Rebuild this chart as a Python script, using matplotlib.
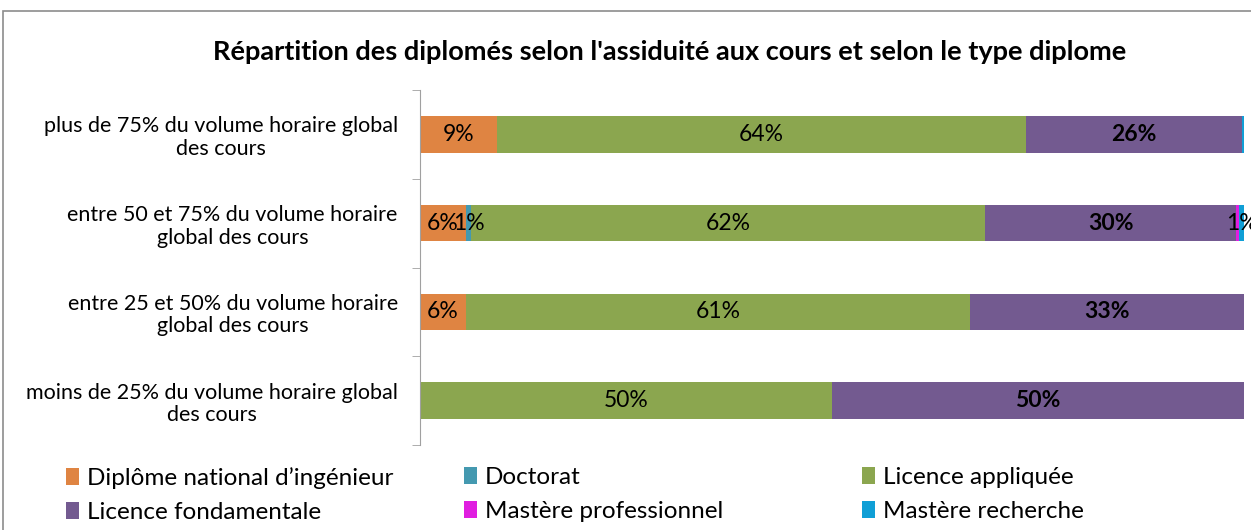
import matplotlib.pyplot as plt
import numpy as np
from matplotlib.patches import Rectangle

plt.rcParams['font.family'] = ['Lato', 'DejaVu Sans']

# Data (top to bottom)
categories = ['plus de 75% du volume horaire global\ndes cours',
              'entre 50 et 75% du volume horaire\nglobal des cours',
              'entre 25 et 50% du volume horaire\nglobal des cours',
              'moins de 25% du volume horaire global\ndes cours']
series_names = ['Diplôme national d\u2019ingénieur', 'Doctorat', 'Licence appliquée',
                'Licence fondamentale', 'Mastère professionnel', 'Mastère recherche']
ingenieur = [9.3, 5.6, 5.6, 0]
doctorat = [0, 0.6, 0, 0]
lic_appliquee = [64.2, 62.4, 61.2, 50]
lic_fondamentale = [26.2, 30.4, 33.2, 50]
mastere_pro = [0, 0.4, 0, 0]
mastere_rech = [0.3, 0.6, 0, 0]
series = [ingenieur, doctorat, lic_appliquee, lic_fondamentale, mastere_pro, mastere_rech]
colors = ['#DF8442', '#4499B0', '#8BA64F', '#735A90', '#E01EE0', '#109FD6']
bold = [False, False, False, True, False, False]

fig = plt.figure(figsize=(12.51, 5.30), dpi=100)
ax = fig.add_axes([420 / 1251, 1 - 445 / 530, 824 / 1251, 355 / 530])

# chart border (cropped on right and bottom)
fig.patches.append(Rectangle((3 / 1251, -0.1), 1.2, 1 - 11 / 530 + 0.1, transform=fig.transFigure,
                             fill=False, edgecolor='#8c8c8c', linewidth=1.2))

y = np.arange(len(categories))
left = np.zeros(len(categories))
bars = []
for name, vals, col, b in zip(series_names, series, colors, bold):
    vals = np.array(vals)
    bars.append(ax.barh(y, vals, left=left, height=0.41, color=col, label=name))
    for yi, (l, v) in enumerate(zip(left, vals)):
        if v >= 0.5:
            ax.text(l + v / 2, yi, f'{v:.0f}%', ha='center', va='center', fontsize=16.5,
                    fontweight='bold' if b else 'normal', color='black')
    left += vals

ax.set_xlim(0, 100)
ax.set_ylim(3.5, -0.5)
ax.set_xticks([])
ax.set_yticks(y)
ax.set_yticklabels(categories, fontsize=15.5, ha='right', multialignment='center', linespacing=1.15)
ax.tick_params(axis='y', length=0, pad=16)
ax.set_yticks(np.arange(-0.5, 4.0, 1), minor=True)
ax.tick_params(axis='y', which='minor', length=6, color='#a0a0a0')
for s in ['top', 'right', 'bottom']:
    ax.spines[s].set_visible(False)
ax.spines['left'].set_color('#a0a0a0')

fig.text(670 / 1251, 1 - 52 / 530, "Répartition des diplomés selon l'assiduité aux cours et selon le type diplome",
         ha='center', va='center', fontsize=19.5, fontweight='bold')

# legend: three columns, filled row by row
col_x = [66, 464, 862]
for i, x in enumerate(col_x):
    fig.legend([bars[i], bars[i + 3]], [series_names[i], series_names[i + 3]],
               loc='upper left', bbox_to_anchor=(x / 1251, 1 - 467 / 530),
               frameon=False, fontsize=17.5, handlelength=0.55, handleheight=0.7,
               handletextpad=0.3, labelspacing=0.55, borderpad=0, borderaxespad=0)

fig.savefig('out.png', dpi=100)
